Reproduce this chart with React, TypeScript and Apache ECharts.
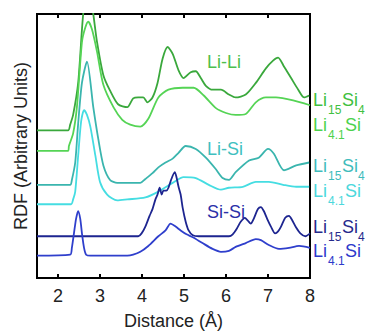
import React, { useEffect, useRef } from "react";
import * as echarts from "echarts";

const xTicks = [2, 3, 4, 5, 6, 7, 8];

// [distance (Å), RDF (arbitrary units, offset curves)]
const liLi15 = [[1.5,152],[2.24,152],[2.29,158],[2.36,168],[2.48,201],[2.6,272],[2.72,306],[2.84,272],[2.93,243],[3.08,209],[3.24,193],[3.43,179],[3.65,176],[3.79,185],[3.91,186],[4.03,186],[4.13,181],[4.25,186],[4.37,201],[4.49,226],[4.61,238],[4.73,231],[4.87,214],[4.99,206],[5.16,212],[5.28,213],[5.4,206],[5.52,198],[5.68,194],[5.88,194],[6.07,189],[6.23,186],[6.47,189],[6.71,201],[6.95,216],[7.12,224],[7.24,227],[7.38,218],[7.55,206],[7.72,194],[7.86,186],[7.98,188]];
const liLi41 = [[1.5,131],[2.24,131],[2.26,136],[2.36,149],[2.45,176],[2.57,243],[2.65,258],[2.72,264],[2.81,256],[2.93,233],[3.08,199],[3.32,176],[3.53,163],[3.72,158],[3.96,156],[4.15,164],[4.39,186],[4.63,194],[4.97,196],[5.23,196],[5.47,188],[5.76,175],[6.0,170],[6.23,168],[6.47,169],[6.71,181],[6.95,186],[7.19,186],[7.6,183],[8.0,178]];
const liSi15 = [[1.5,96],[2.29,96],[2.33,101],[2.41,119],[2.48,159],[2.57,201],[2.69,223],[2.84,176],[2.96,143],[3.08,116],[3.24,101],[3.41,98],[3.96,98],[4.08,102],[4.25,108],[4.39,114],[4.56,119],[4.73,123],[4.87,129],[5.04,136],[5.28,133],[5.52,124],[5.76,112],[5.92,103],[6.07,101],[6.23,109],[6.55,121],[6.78,124],[7.0,133],[7.14,128],[7.38,111],[7.67,116],[7.98,119]];
const liSi41 = [[1.5,76],[2.31,76],[2.36,81],[2.41,89],[2.48,126],[2.55,161],[2.62,173],[2.69,168],[2.77,156],[2.89,126],[3.0,99],[3.17,86],[3.41,80],[3.65,81],[4.08,83],[4.39,89],[4.73,98],[4.99,104],[5.28,103],[5.59,96],[5.88,91],[6.07,93],[6.4,94],[6.71,99],[7.02,99],[7.36,96],[7.67,94],[7.98,94]];
const siSi15 = [[1.5,43],[3.91,43],[3.99,46],[4.08,53],[4.18,64],[4.25,71],[4.32,81],[4.37,86],[4.42,93],[4.47,86],[4.51,90],[4.58,90],[4.63,93],[4.7,102],[4.78,109],[4.82,104],[4.87,94],[4.92,86],[4.97,72],[5.04,58],[5.11,49],[5.21,44],[5.35,43],[6.07,43],[6.16,45],[6.26,51],[6.35,58],[6.45,62],[6.52,59],[6.59,56],[6.66,61],[6.76,71],[6.83,73],[6.9,69],[6.98,61],[7.07,53],[7.17,46],[7.24,48],[7.31,53],[7.41,62],[7.5,64],[7.57,60],[7.67,52],[7.77,46],[7.89,43],[8.0,46]];
const siSi41 = [[1.5,23],[2.29,24],[2.33,31],[2.38,46],[2.43,61],[2.48,69],[2.53,61],[2.57,46],[2.62,31],[2.67,24],[2.77,23],[3.65,23],[3.79,24],[3.96,27],[4.15,33],[4.39,43],[4.56,49],[4.68,56],[4.8,53],[4.92,49],[5.06,45],[5.21,42],[5.44,36],[5.68,30],[5.88,27],[6.07,28],[6.23,32],[6.47,36],[6.71,40],[6.83,39],[7.02,34],[7.26,30],[7.5,31],[7.74,33],[8.0,31]];

const FONT = "Liberation Sans, Arial, Helvetica, sans-serif";

function sub(main1: string, s1: string, main2: string, s2: string, x: number, y: number, color: string, w: number[]) {
  const els: any[] = [];
  const parts = [
    { t: main1, dx: 0, dy: 0, fs: 18 },
    { t: s1, dx: w[0], dy: 10, fs: 12 },
    { t: main2, dx: w[1], dy: 0, fs: 18 },
    { t: s2, dx: w[2], dy: 10, fs: 12 },
  ];
  parts.forEach((p) => {
    if (!p.t) return;
    els.push({
      type: "text",
      x: x + p.dx,
      y: y + p.dy,
      silent: true,
      style: { text: p.t, fill: color, font: `${p.fs}px ${FONT}`, textAlign: "left", textVerticalAlign: "middle" },
    });
  });
  return els;
}

export default function App() {
  const ref = useRef<HTMLDivElement>(null);
  useEffect(() => {
    if (!ref.current) return;
    const chart = echarts.init(ref.current, null, { renderer: "svg" });
    const line = (data: number[][], color: string) => ({
      type: "line",
      data,
      showSymbol: false,
      smooth: 0.25,
      clip: true,
      lineStyle: { color, width: 1.8 },
      xAxisIndex: 0,
      yAxisIndex: 0,
    });
    const inLabel = (text: string, x: number, y: number, color: string) => ({
      type: "text",
      x,
      y,
      silent: true,
      style: { text, fill: color, font: `18px ${FONT}`, textAlign: "center", textVerticalAlign: "middle" },
    });
    chart.setOption({
      animation: false,
      grid: { left: 37, right: 58, top: 14, bottom: 49, show: true, borderColor: "#000", borderWidth: 2, backgroundColor: "transparent" },
      xAxis: [
        {
          type: "value",
          min: 1.5,
          max: 8,
          position: "bottom",
          name: "Distance (Å)",
          nameLocation: "middle",
          nameGap: 34,
          nameTextStyle: { fontFamily: FONT, fontSize: 18, color: "#222" },
          axisLine: { show: true, onZero: false, lineStyle: { color: "#000", width: 2 } },
          axisTick: { show: true, inside: true, length: 4, customValues: xTicks, lineStyle: { color: "#000", width: 2 } },
          axisLabel: { show: true, margin: 9, customValues: xTicks, fontFamily: FONT, fontSize: 18, color: "#222" },
          splitLine: { show: false },
        },
        {
          type: "value",
          min: 1.5,
          max: 8,
          position: "top",
          axisLine: { show: true, onZero: false, lineStyle: { color: "#000", width: 2 } },
          axisTick: { show: true, inside: true, length: 4, customValues: xTicks, lineStyle: { color: "#000", width: 2 } },
          axisLabel: { show: false },
          splitLine: { show: false },
        },
      ],
      yAxis: {
        type: "value",
        min: 0,
        max: 272,
        name: "RDF (Arbitrary Units)",
        nameLocation: "middle",
        nameGap: 7,
        nameTextStyle: { fontFamily: FONT, fontSize: 18, color: "#222" },
        axisLine: { show: true, lineStyle: { color: "#000", width: 2 } },
        axisTick: { show: false },
        axisLabel: { show: false },
        splitLine: { show: false },
      },
      series: [
        line(liLi15, "#3aa83c"),
        line(liLi41, "#55d455"),
        line(liSi15, "#3ab5ae"),
        line(liSi41, "#45dde2"),
        line(siSi15, "#1d2590"),
        line(siSi41, "#2f3fcc"),
      ],
      graphic: [
        inLabel("Li-Li", 224, 62, "#4cbf4c"),
        inLabel("Li-Si", 225, 149, "#40bfbf"),
        inLabel("Si-Si", 226, 212, "#2a30a8"),
        ...sub("Li", "15", "Si", "4", 313, 100, "#40c040", [15, 29, 45]),
        ...sub("Li", "4.1", "Si", "", 313, 125, "#4dd24d", [15, 32, 0]),
        ...sub("Li", "15", "Si", "4", 313, 166, "#3fbcbc", [15, 29, 45]),
        ...sub("Li", "4.1", "Si", "", 313, 191, "#4cd8dc", [15, 32, 0]),
        ...sub("Li", "15", "Si", "4", 313, 227, "#262a8c", [15, 29, 45]),
        ...sub("Li", "4.1", "Si", "", 313, 251, "#2d3acb", [15, 32, 0]),
      ],
    });
    return () => chart.dispose();
  }, []);
  return <div ref={ref} style={{ position: "fixed", left: 0, top: 0, width: 368, height: 335, background: "#fff" }} />;
}
